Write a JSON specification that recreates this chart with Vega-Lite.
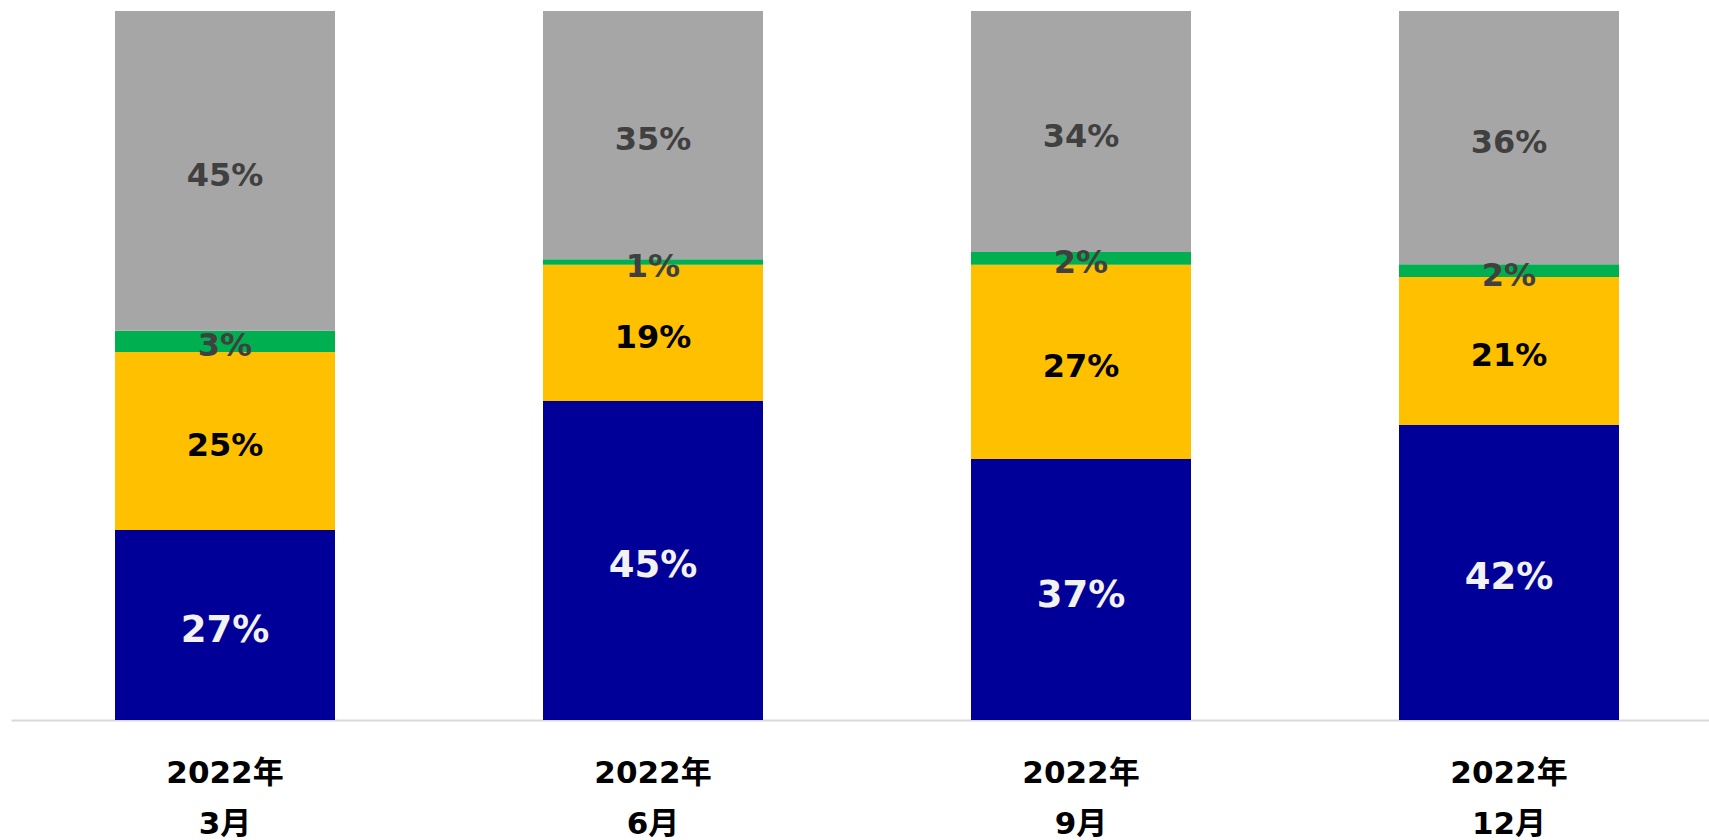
{
  "$schema": "https://vega.github.io/schema/vega-lite/v6.json",
  "autosize": "none",
  "width": 1698,
  "height": 709,
  "padding": {"left": 11, "top": 11, "right": 0, "bottom": 120},
  "background": "white",
  "config": {"view": {"stroke": null}},
  "data": {
    "values": [
      {"period": "2022年 3月", "series": "s1", "share": 0.268},
      {"period": "2022年 3月", "series": "s2", "share": 0.251},
      {"period": "2022年 3月", "series": "s3", "share": 0.030},
      {"period": "2022年 3月", "series": "s4", "share": 0.451},
      {"period": "2022年 6月", "series": "s1", "share": 0.450},
      {"period": "2022年 6月", "series": "s2", "share": 0.192},
      {"period": "2022年 6月", "series": "s3", "share": 0.008},
      {"period": "2022年 6月", "series": "s4", "share": 0.350},
      {"period": "2022年 9月", "series": "s1", "share": 0.368},
      {"period": "2022年 9月", "series": "s2", "share": 0.274},
      {"period": "2022年 9月", "series": "s3", "share": 0.018},
      {"period": "2022年 9月", "series": "s4", "share": 0.340},
      {"period": "2022年 12月", "series": "s1", "share": 0.417},
      {"period": "2022年 12月", "series": "s2", "share": 0.209},
      {"period": "2022年 12月", "series": "s3", "share": 0.018},
      {"period": "2022年 12月", "series": "s4", "share": 0.358}
    ]
  },
  "transform": [
    {"stack": "share", "groupby": ["period"], "sort": [{"field": "series", "order": "ascending"}], "offset": "normalize", "as": ["y0", "y1"]},
    {"calculate": "(datum.y0 + datum.y1) / 2", "as": "ymid"}
  ],
  "encoding": {
    "x": {
      "field": "period",
      "type": "nominal",
      "sort": null,
      "scale": {"range": [0, 1712], "paddingInner": 0.486, "paddingOuter": 0.243},
      "axis": {
        "title": null,
        "labelAngle": 0,
        "labelExpr": "split(datum.label, ' ')",
        "labelFont": "DejaVu Sans, Noto Sans CJK JP",
        "labelFontWeight": "bold",
        "labelFontSize": 31,
        "labelColor": "#000000",
        "labelLineHeight": 51,
        "labelBaseline": "top",
        "labelPadding": 38,
        "ticks": false,
        "tickSize": 0,
        "grid": false,
        "domainColor": "#d9d9d9",
        "domainWidth": 2
      }
    }
  },
  "layer": [
    {
      "mark": {"type": "bar"},
      "encoding": {
        "y": {"field": "y0", "type": "quantitative", "scale": {"domain": [0, 1], "nice": false}, "axis": null},
        "y2": {"field": "y1"},
        "color": {
          "field": "series",
          "type": "nominal",
          "scale": {"domain": ["s1", "s2", "s3", "s4"], "range": ["#000099", "#FFC000", "#00B050", "#A6A6A6"]},
          "legend": null
        }
      }
    },
    {
      "transform": [{"filter": "datum.series != 's1'"}],
      "mark": {"type": "text", "font": "DejaVu Sans", "fontWeight": "bold", "baseline": "middle", "align": "center", "fontSize": 32, "dy": 5},
      "encoding": {
        "y": {"field": "ymid", "type": "quantitative", "scale": {"domain": [0, 1], "nice": false}, "axis": null},
        "text": {"field": "share", "type": "quantitative", "format": ".0%"},
        "color": {
          "field": "series",
          "type": "nominal",
          "scale": {"domain": ["s1", "s2", "s3", "s4"], "range": ["#f2f2f2", "#000000", "#404040", "#404040"]},
          "legend": null
        }
      }
    },
    {
      "transform": [{"filter": "datum.series == 's1'"}],
      "mark": {"type": "text", "font": "DejaVu Sans", "fontWeight": "bold", "baseline": "middle", "align": "center", "fontSize": 37, "dy": 6, "color": "#f2f2f2"},
      "encoding": {
        "y": {"field": "ymid", "type": "quantitative", "scale": {"domain": [0, 1], "nice": false}, "axis": null},
        "text": {"field": "share", "type": "quantitative", "format": ".0%"}
      }
    }
  ],
  "resolve": {"scale": {"color": "independent"}}
}
